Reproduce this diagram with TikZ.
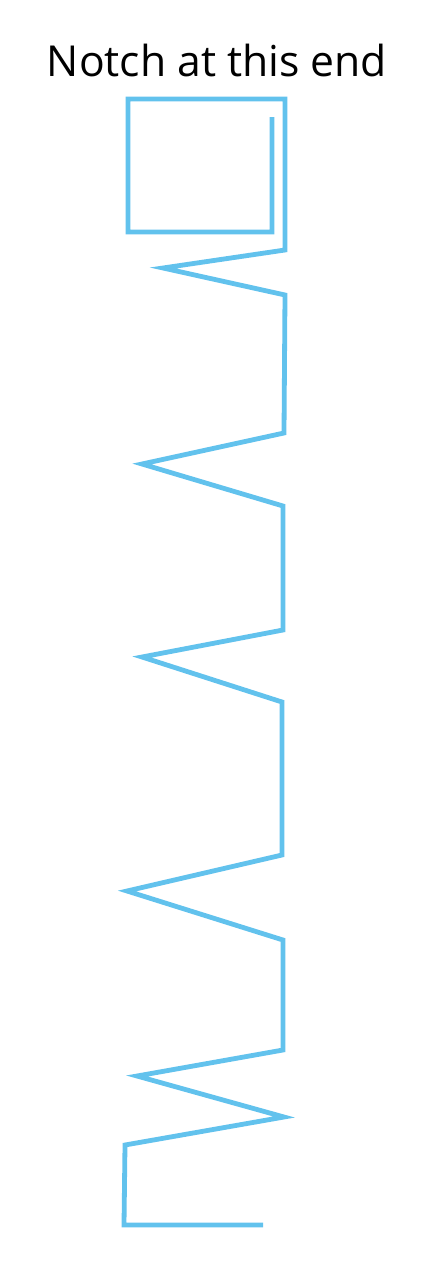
\documentclass[tikz,border=0pt]{standalone}
\usepackage{fontspec}
\setmainfont{Open Sans}
\tikzset{every picture/.style={line width=0.75pt}}

\begin{document}
\begin{tikzpicture}[x=0.75pt,y=0.75pt,yscale=-1,xscale=1]
\path [use as bounding box] (0,0) rectangle (434,1270); %set diagram to 434 x 1270

%Shape: Spring [notch square and zigzag]
\draw [color={rgb, 255:red, 98; green, 194; blue, 237 }  ,draw opacity=1 ][line width=3.6pt] (272,117) -- (272,232) -- (128,232) -- (128,99) -- (285,99) -- (285,250) -- (163,268) -- (285,295) -- (284,433) -- (142,464) -- (283,506) -- (283,630) -- (142,657) -- (282,702) -- (282,855) -- (127,891) -- (283,940) -- (283,1050) -- (137,1076) -- (284,1117) -- (125,1145) -- (124,1225) -- (263,1225) ;


% Text Node
\draw (217,60) node [inner sep=0.75pt]  [font=\fontsize{32}{38}\selectfont] [align=left] (notch) {Notch at this end};

\end{tikzpicture}
\end{document}
